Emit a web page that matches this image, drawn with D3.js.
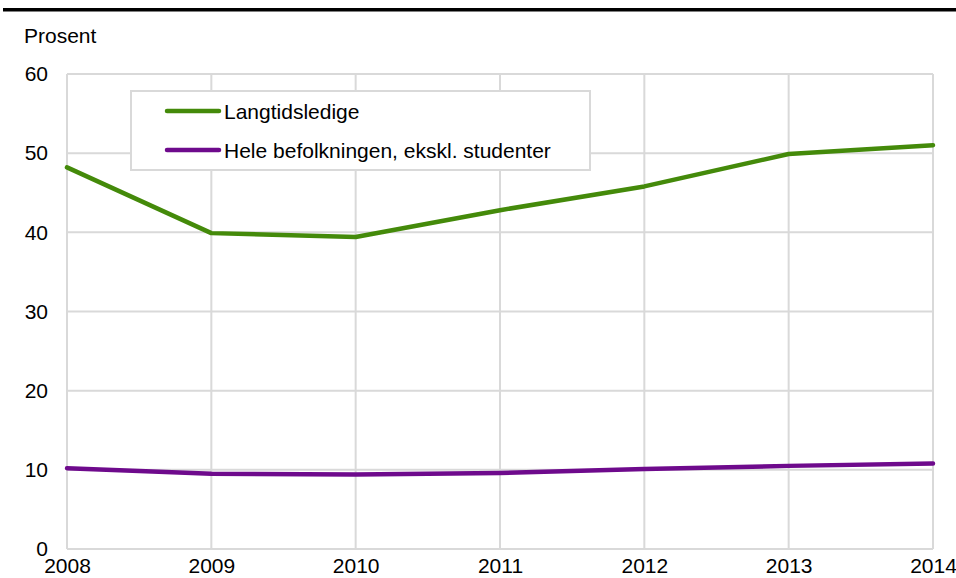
<!DOCTYPE html>
<html>
<head>
<meta charset="utf-8">
<script src="https://cdn.jsdelivr.net/npm/d3@7.9.0/dist/d3.min.js"></script>
<style>
  body { margin: 0; background: #fff; }
  svg { display: block; font-family: "Liberation Sans", Arial, sans-serif; }
</style>
</head>
<body>
<div id="chart"></div>
<script>
const years = [2008, 2009, 2010, 2011, 2012, 2013, 2014];
const langtidsledige = [48.2, 39.9, 39.4, 42.8, 45.8, 49.9, 51.0];
const heleBefolkningen = [10.2, 9.5, 9.4, 9.6, 10.1, 10.5, 10.8];
const yTicks = [0, 10, 20, 30, 40, 50, 60];
const seriesNames = ['Langtidsledige', 'Hele befolkningen, ekskl. studenter'];
const seriesColors = ['#448a0a', '#6e0a8c'];

const width = 956, height = 578;
const margin = { top: 74, right: 23, bottom: 29, left: 67 };
const fontSize = 21;

const svg = d3.select('#chart').append('svg')
    .attr('width', width)
    .attr('height', height);

// top rule
svg.append('rect')
    .attr('x', 3).attr('y', 8)
    .attr('width', width - 3).attr('height', 3.5)
    .attr('fill', '#000');

const x = d3.scaleLinear()
    .domain([2008, 2014])
    .range([margin.left, width - margin.right]);

const y = d3.scaleLinear()
    .domain([0, 60])
    .range([height - margin.bottom, margin.top]);

// gridlines
const grid = svg.append('g').attr('class', 'grid');
grid.selectAll('line.h')
    .data(yTicks)
    .join('line')
    .attr('class', 'h')
    .attr('x1', x(2008)).attr('x2', x(2014))
    .attr('y1', d => y(d)).attr('y2', d => y(d))
    .attr('stroke', '#d9d9d9')
    .attr('stroke-width', 2);

grid.selectAll('line.v')
    .data(years)
    .join('line')
    .attr('class', 'v')
    .attr('x1', d => x(d)).attr('x2', d => x(d))
    .attr('y1', y(0)).attr('y2', y(60))
    .attr('stroke', '#d9d9d9')
    .attr('stroke-width', 2);

// y axis labels
const yAxis = d3.axisLeft(y).tickValues(yTicks).tickSize(0).tickPadding(19);
svg.append('g')
    .attr('transform', `translate(${margin.left},0)`)
    .call(yAxis)
    .call(g => g.select('.domain').remove())
    .call(g => g.selectAll('text')
        .attr('font-size', fontSize)
        .attr('font-family', '"Liberation Sans", Arial, sans-serif')
        .attr('fill', '#000'));

// x axis labels
const xAxis = d3.axisBottom(x).tickValues(years).tickFormat(d3.format('d')).tickSize(0).tickPadding(9);
svg.append('g')
    .attr('transform', `translate(0,${y(0)})`)
    .call(xAxis)
    .call(g => g.select('.domain').remove())
    .call(g => g.selectAll('text')
        .attr('font-size', fontSize)
        .attr('font-family', '"Liberation Sans", Arial, sans-serif')
        .attr('fill', '#000'));

svg.append('text')
    .attr('x', 24).attr('y', 43)
    .attr('font-size', fontSize)
    .text('Prosent');

// lines
const line = d3.line()
    .x((d, i) => x(years[i]))
    .y(d => y(d));

[langtidsledige, heleBefolkningen].forEach((vals, i) => {
    svg.append('path')
        .datum(vals)
        .attr('d', line)
        .attr('fill', 'none')
        .attr('stroke', seriesColors[i])
        .attr('stroke-width', 4.5)
        .attr('stroke-linejoin', 'round')
        .attr('stroke-linecap', 'round');
});

// legend
const legend = svg.append('g');
legend.append('rect')
    .attr('x', 131).attr('y', 91)
    .attr('width', 459).attr('height', 79)
    .attr('fill', '#fff')
    .attr('stroke', '#d9d9d9')
    .attr('stroke-width', 2);

seriesNames.forEach((name, i) => {
    const ly = 111 + i * 39;
    legend.append('line')
        .attr('x1', 167).attr('x2', 219)
        .attr('y1', ly).attr('y2', ly)
        .attr('stroke', seriesColors[i])
        .attr('stroke-width', 4.5)
        .attr('stroke-linecap', 'round');
    legend.append('text')
        .attr('x', 224).attr('y', ly + 7.5)
        .attr('font-size', fontSize)
        .text(name);
});
</script>
</body>
</html>
